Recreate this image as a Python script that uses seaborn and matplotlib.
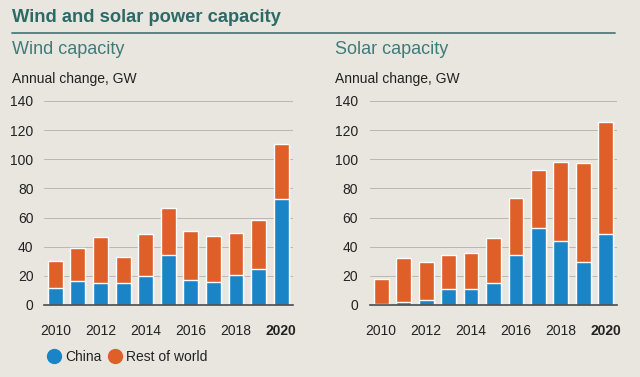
import matplotlib
matplotlib.use("Agg")
import matplotlib.pyplot as plt
from matplotlib.lines import Line2D
import seaborn as sns

# ------------------------------
#   Data (GW, annual change)
# ------------------------------
years = [2010, 2011, 2012, 2013, 2014, 2015, 2016, 2017, 2018, 2019, 2020]

wind_china = [11.5, 16.5, 15, 15, 20, 34.5, 17.5, 16, 20.5, 25, 72.5]
wind_total = [30, 39, 47, 33, 49, 66.5, 50.5, 47.5, 49.5, 58.5, 110.5]

solar_china = [0.5, 2.3, 3.7, 11.2, 10.7, 15.1, 34.3, 53, 44, 29.3, 49]
solar_total = [17.8, 32, 29.5, 34.3, 36, 46, 73.6, 92.8, 98, 97.2, 125.7]

xtick_labels = ["2010", "2012", "2014", "2016", "2018", "2020"]
legend_labels = ["China", "Rest of world"]

BG = "#e9e6e0"
BLUE = "#1b84c6"
ORANGE = "#de5f28"
TEAL = "#2b6a66"
TEAL_LIGHT = "#3f7c79"
TXT = "#222222"

sns.set_style("white")
plt.rcParams["font.family"] = ["Liberation Sans", "DejaVu Sans"]

fig = plt.figure(figsize=(6.4, 3.77), dpi=100, facecolor=BG)
W, H = 640, 377


def px_axes(left, top, right, bottom):
    return fig.add_axes([left / W, 1 - bottom / H, (right - left) / W, (bottom - top) / H])


def panel(ax, china, total, label_pad):
    ax.set_facecolor(BG)
    sns.barplot(x=years, y=total, color=ORANGE, width=0.66, ax=ax,
                saturation=1, zorder=2)
    sns.barplot(x=years, y=china, color=BLUE, width=0.66, ax=ax,
                saturation=1, zorder=3)
    ax.set_xlim(-0.5, len(years) - 0.5)
    ax.set_ylim(0, 140)
    ax.set_yticks(range(0, 141, 20))
    ax.grid(axis="y", color="#bab7b1", linewidth=0.7, zorder=0)
    ax.grid(axis="x", visible=False)
    for s in ["top", "right", "left"]:
        ax.spines[s].set_visible(False)
    ax.spines["bottom"].set_color("#4a4a4a")
    ax.spines["bottom"].set_linewidth(1.2)
    ax.spines["bottom"].set_zorder(4)
    ax.set_xticks(range(0, len(years), 2))
    ax.set_xticklabels(xtick_labels)
    ax.tick_params(axis="both", length=0, labelsize=10, colors=TXT)
    ax.tick_params(axis="x", pad=14)
    ax.tick_params(axis="y", pad=label_pad)
    ax.get_xticklabels()[-1].set_fontweight("bold")
    ax.set_xlabel("")
    ax.set_ylabel("")


ax_wind = px_axes(44, 101, 292.5, 305)
panel(ax_wind, wind_china, wind_total, 7.5)
ax_solar = px_axes(370, 101, 617, 305)
panel(ax_solar, solar_china, solar_total, 8.5)

# titles
fig.text(12 / W, 1 - 18 / H, "Wind and solar power capacity", fontsize=13.2,
         fontweight="bold", color=TEAL, va="center", ha="left")
fig.add_artist(Line2D([12 / W, 615 / W], [1 - 33 / H, 1 - 33 / H],
                      color="#4f7c7a", linewidth=1.3))
fig.text(12 / W, 1 - 50 / H, "Wind capacity", fontsize=13, color=TEAL_LIGHT,
         va="center", ha="left")
fig.text(335 / W, 1 - 50 / H, "Solar capacity", fontsize=13, color=TEAL_LIGHT,
         va="center", ha="left")
fig.text(12 / W, 1 - 79 / H, "Annual change, GW", fontsize=10, color=TXT,
         va="center", ha="left")
fig.text(335 / W, 1 - 79 / H, "Annual change, GW", fontsize=10, color=TXT,
         va="center", ha="left")

# legend
handles = [Line2D([], [], marker="o", linestyle="", markersize=10,
                  markerfacecolor=c, markeredgecolor=c) for c in (BLUE, ORANGE)]
leg = fig.legend(handles, legend_labels, loc="center left",
                 bbox_to_anchor=(40 / W, 1 - 357 / H), ncol=2, frameon=False,
                 fontsize=10, handletextpad=0.3, columnspacing=0.5,
                 handlelength=1.0, borderpad=0)
for t in leg.get_texts():
    t.set_color(TXT)

fig.savefig("out.png", dpi=100, facecolor=BG)
